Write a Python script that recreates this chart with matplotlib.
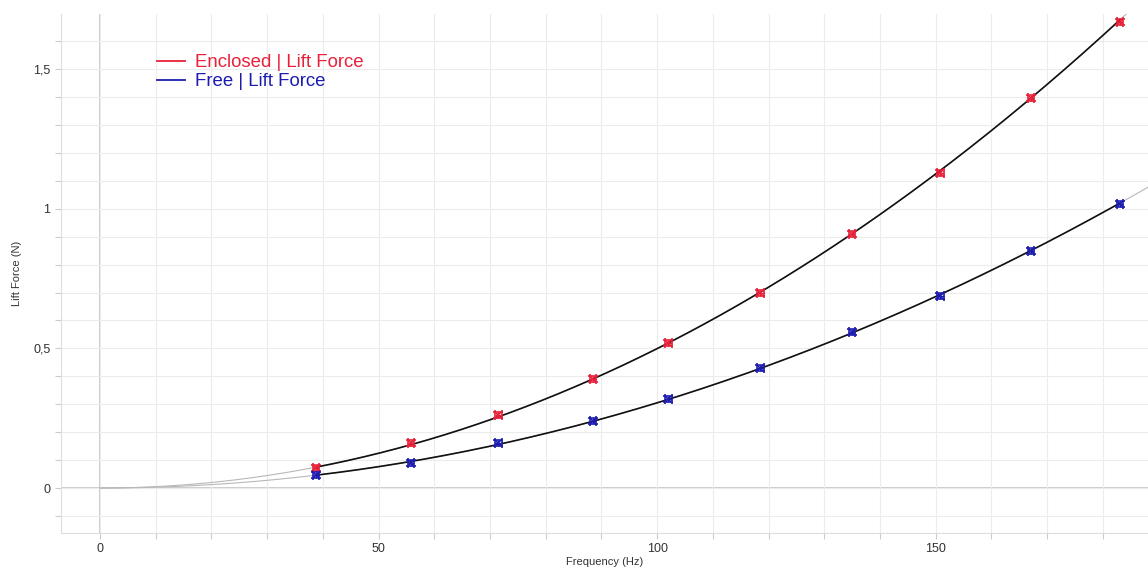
import matplotlib.pyplot as plt
import numpy as np
from matplotlib.ticker import MultipleLocator, FuncFormatter

plt.rcParams['font.family'] = ['Liberation Sans', 'DejaVu Sans']

freq_enclosed = [38.8, 55.8, 71.5, 88.5, 102.0, 118.5, 135.0, 150.8, 167.1, 183.1]
lift_enclosed = [0.072, 0.161, 0.261, 0.390, 0.519, 0.698, 0.909, 1.128, 1.396, 1.668]
freq_free = [38.8, 55.8, 71.5, 88.5, 102.0, 118.5, 135.0, 150.8, 167.1, 183.1]
lift_free = [0.047, 0.090, 0.161, 0.240, 0.319, 0.430, 0.559, 0.687, 0.849, 1.017]
err_y = 0.012
err_x = 0.6

red = '#e8213a'
blue = '#1c1cb0'


def power_fit(x, y):
    b, a = np.polyfit(np.log(x), np.log(y), 1)
    return lambda t: np.exp(a) * np.power(t, b)


fig = plt.figure(figsize=(11.48, 5.70), dpi=100)
ax = fig.add_axes([0.0531, 0.0649, 0.9469, 0.9105])
ax.set_xlim(-7, 188.1)
ax.set_ylim(-0.161, 1.697)

ax.xaxis.set_major_locator(MultipleLocator(50))
ax.xaxis.set_minor_locator(MultipleLocator(10))
ax.yaxis.set_major_locator(MultipleLocator(0.5))
ax.yaxis.set_minor_locator(MultipleLocator(0.1))
fmt = FuncFormatter(lambda v, p: ('%g' % round(v, 3)).replace('.', ','))
ax.xaxis.set_major_formatter(fmt)
ax.yaxis.set_major_formatter(fmt)

ax.grid(True, which='both', color='#ececec', lw=0.8, zorder=0)
ax.axhline(0, color='#c8c8c8', lw=1.3, zorder=1)
ax.axvline(0, color='#c8c8c8', lw=1.3, zorder=1)

for s in ['top', 'right']:
    ax.spines[s].set_visible(False)
for s in ['left', 'bottom']:
    ax.spines[s].set_color('#dddddd')
ax.tick_params(which='both', colors='#cccccc', labelcolor='#333333', labelsize=9, length=4, width=0.8)

for fx, fy, col in [(freq_enclosed, lift_enclosed, red), (freq_free, lift_free, blue)]:
    f = power_fit(np.array(fx), np.array(fy))
    t_all = np.linspace(0, 200, 400)
    ax.plot(t_all, f(t_all), color='#b8b8b8', lw=0.8, zorder=2)
    t_dat = np.linspace(fx[0], fx[-1], 300)
    ax.plot(t_dat, f(t_dat), color='#111111', lw=1.2, zorder=3)
    ax.errorbar(fx, fy, xerr=err_x, yerr=err_y, fmt='x', color=col, ms=5, mew=1.2,
                elinewidth=1.0, capsize=3.3, capthick=1.2, zorder=4)

ax.plot([], [], color=red, lw=1.3, label='Enclosed | Lift Force')
ax.plot([], [], color=blue, lw=1.3, label='Free | Lift Force')
leg = ax.legend(loc='upper left', bbox_to_anchor=(0.073, 0.955), frameon=False, fontsize=13.4,
                handlelength=1.5, handletextpad=0.55, labelspacing=0.12)
leg.get_texts()[0].set_color(red)
leg.get_texts()[1].set_color(blue)

ax.set_xlabel('Frequency (Hz)', fontsize=8, color='#333333', labelpad=1)
ax.set_ylabel('Lift Force (N)', fontsize=8, color='#333333', labelpad=8)

fig.savefig('out.png', dpi=100)
